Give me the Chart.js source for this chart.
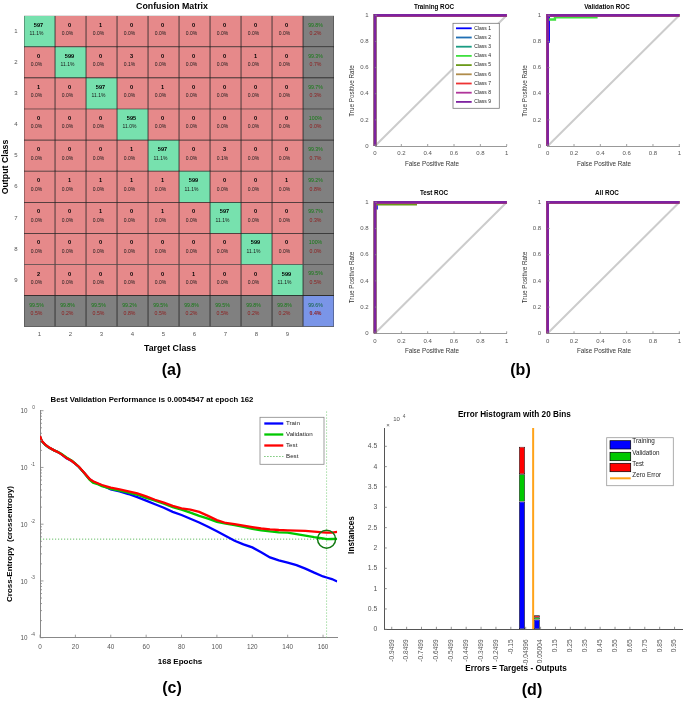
<!DOCTYPE html>
<html>
<head>
<meta charset="utf-8">
<title>Neural network classification results</title>
<script src="https://cdn.jsdelivr.net/npm/chart.js@4.4.1/dist/chart.umd.min.js"></script>
<style>
  html, body { margin:0; padding:0; background:#ffffff; }
  #wrap { position:relative; width:685px; height:701px; overflow:hidden; background:#ffffff; }
  #wrap canvas { position:absolute; left:0; top:0; }
</style>
</head>
<body>
<div id="wrap"></div>
<script>
// ================= DATA =================
// (a) Confusion matrix: rows = output class, columns = target class
const cmClasses = ['1','2','3','4','5','6','7','8','9'];
const cmOut1 = [597, 0, 1, 0, 0, 0, 0, 0, 0];
const cmOut2 = [0, 599, 0, 3, 0, 0, 0, 1, 0];
const cmOut3 = [1, 0, 597, 0, 1, 0, 0, 0, 0];
const cmOut4 = [0, 0, 0, 595, 0, 0, 0, 0, 0];
const cmOut5 = [0, 0, 0, 1, 597, 0, 3, 0, 0];
const cmOut6 = [0, 1, 1, 1, 1, 599, 0, 0, 1];
const cmOut7 = [0, 0, 1, 0, 1, 0, 597, 0, 0];
const cmOut8 = [0, 0, 0, 0, 0, 0, 0, 599, 0];
const cmOut9 = [2, 0, 0, 0, 0, 1, 0, 0, 599];

// (b) ROC curves: false positive rate / true positive rate
const rocClassNames = ['Class 1','Class 2','Class 3','Class 4','Class 5','Class 6','Class 7','Class 8','Class 9'];
const rocTicks = [0, 0.2, 0.4, 0.6, 0.8, 1];
const rocPerfectFpr = [0, 0, 1];
const rocPerfectTpr = [0, 1, 1];
const valClass1Fpr = [0, 0, 0.008, 0.008, 1];
const valClass1Tpr = [0, 0.80, 0.80, 1, 1];
const valClass4Fpr = [0, 0, 0.055, 0.055, 0.37, 0.37, 1];
const valClass4Tpr = [0, 0.968, 0.968, 0.984, 0.984, 1, 1];
const testClass1Fpr = [0, 0, 0.012, 0.012, 1];
const testClass1Tpr = [0, 0.955, 0.955, 1, 1];
const testClass2Fpr = [0, 0, 0.07, 0.07, 1];
const testClass2Tpr = [0, 0.99, 0.99, 1, 1];
const testClass5Fpr = [0, 0, 0.31, 0.31, 1];
const testClass5Tpr = [0, 0.984, 0.984, 1, 1];
const chanceFpr = [0, 1];
const chanceTpr = [0, 1];

// (c) Performance (cross-entropy) per epoch
const perfEpochs = [0,1,3,5,8,10,12,15,18,20,22,25,28,30,33,35,38,40,45,50,55,60,65,70,75,80,85,90,95,100,105,110,115,120,125,130,135,140,145,150,155,160,162,165,168];
const perfTrain = [0.35,0.29,0.25,0.225,0.2,0.187,0.172,0.145,0.13,0.116,0.102,0.08,0.062,0.056,0.051,0.048,0.044,0.041,0.038,0.034,0.030,0.026,0.0225,0.0195,0.0165,0.0145,0.0125,0.0107,0.009,0.0075,0.0062,0.0051,0.0044,0.0039,0.0032,0.0026,0.0023,0.0021,0.0019,0.00165,0.0014,0.0012,0.00115,0.00108,0.00098];
const perfValidation = [0.35,0.29,0.25,0.225,0.2,0.188,0.174,0.15,0.131,0.117,0.102,0.08,0.061,0.054,0.05,0.047,0.044,0.042,0.039,0.036,0.033,0.029,0.026,0.023,0.020,0.018,0.016,0.014,0.0125,0.011,0.0102,0.0096,0.009,0.0083,0.0078,0.0075,0.0072,0.0071,0.0067,0.0063,0.0059,0.0056,0.0054547,0.00548,0.0055];
const perfTest = [0.36,0.295,0.252,0.226,0.2,0.187,0.172,0.146,0.13,0.116,0.103,0.081,0.063,0.057,0.052,0.049,0.046,0.044,0.041,0.038,0.035,0.031,0.027,0.024,0.021,0.019,0.018,0.0165,0.014,0.0118,0.0105,0.0100,0.0094,0.0089,0.0084,0.0081,0.0079,0.0078,0.0077,0.0076,0.0074,0.0072,0.0071,0.0071,0.0073];
const bestEpoch = 162;
const bestPerf = 0.0054547;
const totalEpochs = 168;
const perfYMin = 1e-4;
const perfYMax = 1;
const perfDecades = [-4, -3, -2, -1, 0];
const perfEpochTicks = [0, 20, 40, 60, 80, 100, 120, 140, 160];

// (d) Error histogram with 20 bins
const histBins = ['-0.9499','-0.8499','-0.7499','-0.6499','-0.5499','-0.4499','-0.3499','-0.2499','-0.15','-0.04996','0.05004','0.15','0.25','0.35','0.45','0.55','0.65','0.75','0.85','0.95'];
const histTraining   = [9, 6, 7, 8, 9, 10, 12, 15, 24, 31400, 2420, 20, 12, 10, 8, 8, 7, 6, 6, 9];
const histValidation = [2, 1, 1, 2, 2, 2, 3, 3, 5, 6730, 520, 4, 3, 2, 2, 2, 1, 1, 1, 2];
const histTest       = [2, 1, 2, 1, 2, 2, 3, 3, 5, 6730, 520, 4, 2, 2, 2, 1, 2, 1, 1, 2];
const histYTicks = [0, 5000, 10000, 15000, 20000, 25000, 30000, 35000, 40000, 45000];
const histYMax = 49500;
const zeroError = 0;

// ================= HELPERS =================
const FF = "'Liberation Sans', Arial, Helvetica, sans-serif";
const W = 685, H = 701;
const wrap = document.getElementById('wrap');
function addCanvas() {
  const c = document.createElement('canvas');
  c.width = W; c.height = H; c.style.width = W + 'px'; c.style.height = H + 'px';
  wrap.appendChild(c); return c;
}
function font(size, bold) { return (bold ? 'bold ' : '') + size + 'px ' + FF; }
function fixW(w) { return s => { s.width = w; s.paddingLeft = 0; s.paddingRight = 0; s.paddingTop = 0; s.paddingBottom = 0; }; }
function fixH(h) { return s => { s.height = h; s.paddingLeft = 0; s.paddingRight = 0; s.paddingTop = 0; s.paddingBottom = 0; }; }
function areaPad(a, yW, xH) { return { left: a.L - yW, top: a.T, right: W - a.R, bottom: H - a.B - xH }; }
function pts(xs, ys) { return xs.map((x, i) => ({ x: x, y: ys[i] })); }

function textPlugin(items) {
  return { id: 'pageText', afterDraw(chart) {
    const ctx = chart.ctx;
    items.forEach(it => {
      ctx.save();
      ctx.font = font(it.size, it.bold);
      ctx.fillStyle = it.color || '#000';
      ctx.textAlign = it.align || 'center';
      ctx.textBaseline = 'middle';
      ctx.translate(it.x, it.y);
      if (it.rot) ctx.rotate(-Math.PI / 2);
      ctx.fillText(it.text, 0, 0);
      ctx.restore();
    });
  } };
}
function tickPlugin(spec) {
  return { id: 'inTicks', afterDraw(chart) {
    const ctx = chart.ctx, a = chart.chartArea;
    ctx.save(); ctx.strokeStyle = spec.color || '#7a7a7a'; ctx.lineWidth = 0.8;
    ['x', 'y'].forEach(id => {
      const sc = chart.scales[id], sp = spec[id];
      if (!sc || !sp) return;
      sc.ticks.forEach((t, i) => {
        const len = (t.major === false && sp.minor != null) ? sp.minor : sp.len;
        const p = sc.getPixelForTick(i);
        ctx.beginPath();
        if (id === 'x') { ctx.moveTo(p, a.bottom); ctx.lineTo(p, a.bottom - len); }
        else { ctx.moveTo(a.left, p); ctx.lineTo(a.left + len, p); }
        ctx.stroke();
      });
    });
    ctx.restore();
  } };
}
function legendPlugin(cfg) {
  return { id: 'boxLegend', afterDraw(chart) {
    const ctx = chart.ctx; const b = cfg.box;
    ctx.save();
    ctx.fillStyle = '#ffffff'; ctx.fillRect(b[0], b[1], b[2] - b[0], b[3] - b[1]);
    ctx.strokeStyle = cfg.border || '#8c8c8c'; ctx.lineWidth = 0.8;
    ctx.strokeRect(b[0], b[1], b[2] - b[0], b[3] - b[1]);
    cfg.items.forEach(it => {
      const ds = chart.data.datasets[it.ds];
      if (it.kind === 'patch') {
        ctx.fillStyle = ds.backgroundColor;
        ctx.fillRect(cfg.x0, it.y0, cfg.x1 - cfg.x0, it.y1 - it.y0);
        ctx.strokeStyle = '#000'; ctx.lineWidth = 0.7;
        ctx.strokeRect(cfg.x0, it.y0, cfg.x1 - cfg.x0, it.y1 - it.y0);
      } else {
        ctx.strokeStyle = ds.borderColor; ctx.lineWidth = it.lw || ds.borderWidth;
        ctx.setLineDash(ds.borderDash || []);
        ctx.beginPath(); ctx.moveTo(cfg.x0, it.y); ctx.lineTo(cfg.x1, it.y); ctx.stroke();
        ctx.setLineDash([]);
      }
      ctx.fillStyle = '#222'; ctx.font = font(cfg.size); ctx.textAlign = 'left'; ctx.textBaseline = 'middle';
      ctx.fillText(ds.label, cfg.tx, it.ty != null ? it.ty : it.y);
    });
    ctx.restore();
  } };
}
const baseOpts = { responsive: false, maintainAspectRatio: false, animation: false, devicePixelRatio: 1,
  plugins: { legend: { display: false }, tooltip: { enabled: false }, title: { display: false } } };

// ================= (a) CONFUSION MATRIX =================
(function () {
  const rows = [cmOut1, cmOut2, cmOut3, cmOut4, cmOut5, cmOut6, cmOut7, cmOut8, cmOut9];
  const n = cmClasses.length;
  const total = rows.reduce((s, r) => s + r.reduce((a, b) => a + b, 0), 0);
  const rowSum = rows.map(r => r.reduce((a, b) => a + b, 0));
  const colSum = cmClasses.map((c, j) => rows.reduce((s, r) => s + r[j], 0));
  const diag = rows.reduce((s, r, i) => s + r[i], 0);
  const rowLabels = cmClasses.concat(['']);
  const GREEN = '#77e1ae', RED = '#e6898a', GREY = '#808080', BLUE = '#7a95e8';
  function pct(f) {
    const r = Math.round(f * 1000) / 10;
    if (r >= 100) return '100%';
    return r.toFixed(1) + '%';
  }
  function cellColor(i, j) {
    if (i === n && j === n) return BLUE;
    if (i === n || j === n) return GREY;
    return i === j ? GREEN : RED;
  }
  function cellText(i, j) {
    if (i < n && j < n) return { a: String(rows[i][j]), b: pct(rows[i][j] / total), sum: false };
    let good, all;
    if (i < n) { good = rows[i][i]; all = rowSum[i]; }
    else if (j < n) { good = rows[j][j]; all = colSum[j]; }
    else { good = diag; all = total; }
    return { a: pct(good / all), b: pct(1 - good / all), sum: true, corner: i === n && j === n };
  }
  const datasets = [];
  for (let j = 0; j <= n; j++) {
    datasets.push({
      label: j < n ? 'Target ' + cmClasses[j] : 'Summary',
      data: rowLabels.map(() => 1),
      backgroundColor: rowLabels.map((_, i) => cellColor(i, j)),
      borderColor: '#262626', borderWidth: 0.7, borderSkipped: false,
      barPercentage: 1, categoryPercentage: 1
    });
  }
  const cellPlugin = { id: 'cmCells', afterDatasetsDraw(chart) {
    const ctx = chart.ctx;
    ctx.save(); ctx.textAlign = 'center'; ctx.textBaseline = 'middle';
    chart.data.datasets.forEach((ds, j) => {
      chart.getDatasetMeta(j).data.forEach((el, i) => {
        const cx = (el.x + el.base) / 2, cy = el.y;
        const t = cellText(i, j);
        if (!t.sum) {
          ctx.font = font(5.6, true); ctx.fillStyle = '#000';
          ctx.fillText(t.a, cx - 1, cy - 6);
          ctx.font = font(5, false); ctx.fillStyle = '#1a1a1a';
          ctx.fillText(t.b, cx - 3, cy + 2.5);
        } else {
          ctx.font = font(5.2, false); ctx.fillStyle = t.corner ? '#0d5f3a' : '#127a12';
          ctx.fillText(t.a, cx - 3, cy - 6);
          ctx.font = font(5.2, t.corner); ctx.fillStyle = '#8e1b1b';
          ctx.fillText(t.b, cx - 3, cy + 2.5);
        }
      });
    });
    ctx.restore();
  } };
  const area = { L: 24, T: 15.7, R: 334, B: 326.7 };
  new Chart(addCanvas(), {
    type: 'bar',
    data: { labels: rowLabels, datasets: datasets },
    options: Object.assign({}, baseOpts, {
      indexAxis: 'y',
      layout: { padding: areaPad(area, 20, 12) },
      scales: {
        x: { type: 'linear', stacked: true, min: 0, max: n + 1,
          grid: { display: false, drawTicks: false }, border: { display: false },
          afterBuildTicks: s => { s.ticks = cmClasses.map((c, i) => ({ value: i + 0.5 })); },
          ticks: { callback: (v, i) => cmClasses[i], font: { family: FF, size: 6 }, color: '#555', padding: 3.7, maxRotation: 0, autoSkip: false },
          afterFit: fixH(12) },
        y: { type: 'category', stacked: true,
          grid: { display: false, drawTicks: false }, border: { display: false },
          ticks: { font: { family: FF, size: 6 }, color: '#555', padding: 6.3, autoSkip: false },
          afterFit: fixW(20) }
      }
    }),
    plugins: [cellPlugin, textPlugin([
      { text: 'Confusion Matrix', x: 172, y: 6.5, size: 8.8, bold: true },
      { text: 'Output Class', x: 6, y: 167, size: 8.8, bold: true, rot: true },
      { text: 'Target Class', x: 170, y: 349, size: 8.8, bold: true },
      { text: '(a)', x: 171.5, y: 371, size: 16, bold: true }
    ])]
  });
})();

// ================= (b) ROC CURVES =================
const rocColors = ['#0000ff', '#1f6fb4', '#1a9c83', '#3fe03f', '#6b9a1a', '#b08c4a', '#ee3333', '#b0359a', '#7e22a0'];
function rocChart(area, curves, texts, legend) {
  const datasets = [{ label: 'Chance', data: pts(chanceFpr, chanceTpr), borderColor: '#cccccc', borderWidth: 2, order: 100, clip: false }];
  curves.forEach((c, k) => datasets.push({
    label: rocClassNames[k], data: pts(c[0], c[1]), borderColor: rocColors[k], borderWidth: 2.4, order: -k, clip: false
  }));
  const plugins = [tickPlugin({ x: { len: 2 }, y: { len: 2 }, color: '#888' }), textPlugin(texts)];
  if (legend) {
    const items = rocClassNames.map((nm, k) => ({ ds: k + 1, y: 28.3 + 9.2 * k, lw: 1.8 }));
    plugins.push(legendPlugin({ box: [453, 23.3, 499.3, 108.3], x0: 456, x1: 471.7, tx: 474.3, size: 5, items: items, border: '#777' }));
  }
  new Chart(addCanvas(), {
    type: 'line',
    data: { datasets: datasets },
    options: Object.assign({}, baseOpts, {
      layout: { padding: areaPad(area, 24, 14) },
      elements: { point: { radius: 0 }, line: { tension: 0 } },
      scales: {
        x: { type: 'linear', min: 0, max: 1, grid: { display: false, drawTicks: false }, border: { display: true, color: '#999', width: 1 },
          afterBuildTicks: s => { s.ticks = rocTicks.map(v => ({ value: v })); },
          ticks: { callback: v => String(v), font: { family: FF, size: 6 }, color: '#555', padding: 4, maxRotation: 0, autoSkip: false },
          afterFit: fixH(14) },
        y: { type: 'linear', min: 0, max: 1, grid: { display: false, drawTicks: false }, border: { display: true, color: '#999', width: 1 },
          afterBuildTicks: s => { s.ticks = rocTicks.map(v => ({ value: v })); },
          ticks: { callback: v => String(v), font: { family: FF, size: 6 }, color: '#555', padding: 6.5, autoSkip: false },
          afterFit: fixW(24) }
      }
    }),
    plugins: plugins
  });
}
const perfect = [rocPerfectFpr, rocPerfectTpr];
function rocTexts(title, tx, ty, ytx, yty, xtx, xty) {
  return [
    { text: title, x: tx, y: ty, size: 6.3, bold: true },
    { text: 'True Positive Rate', x: ytx, y: yty, size: 6.3, color: '#333', rot: true },
    { text: 'False Positive Rate', x: xtx, y: xty, size: 6.3, color: '#333' }
  ];
}
rocChart({ L: 375, T: 15.3, R: 506.7, B: 146 },
  [perfect, perfect, perfect, perfect, perfect, perfect, perfect, perfect, perfect],
  rocTexts('Training ROC', 434, 7, 352, 91, 432, 164).concat([{ text: '(b)', x: 520.5, y: 371, size: 16, bold: true }]), true);
rocChart({ L: 547.7, T: 15.3, R: 679.3, B: 146 },
  [[valClass1Fpr, valClass1Tpr], perfect, perfect, [valClass4Fpr, valClass4Tpr], perfect, perfect, perfect, perfect, perfect],
  rocTexts('Validation ROC', 607, 7, 525, 91, 604, 164), false);
rocChart({ L: 375, T: 202.3, R: 506.7, B: 333.3 },
  [[testClass1Fpr, testClass1Tpr], [testClass2Fpr, testClass2Tpr], perfect, perfect, [testClass5Fpr, testClass5Tpr], perfect, perfect, perfect, perfect],
  rocTexts('Test ROC', 434, 193.5, 352, 277.5, 432, 351), false);
rocChart({ L: 547.7, T: 202.3, R: 679.3, B: 333.3 },
  [perfect, perfect, perfect, perfect, perfect, perfect, perfect, perfect, perfect],
  rocTexts('All ROC', 607, 193.5, 525, 277.5, 604, 351), false);

// ================= (c) PERFORMANCE =================
(function () {
  const area = { L: 40, T: 410.7, R: 337.2, B: 637.7 };
  const decadeLabels = { id: 'decadeLabels', afterDraw(chart) {
    const ctx = chart.ctx, ys = chart.scales.y;
    ctx.save(); ctx.fillStyle = '#555'; ctx.textBaseline = 'middle';
    perfDecades.forEach(e => {
      const p = ys.getPixelForValue(Math.pow(10, e));
      ctx.font = font(6.3); ctx.textAlign = 'right'; ctx.fillText('10', 27.5, p + 1);
      ctx.font = font(4.8); ctx.textAlign = 'right'; ctx.fillText(String(e), 35, p - 3);
    });
    ctx.restore();
  } };
  new Chart(addCanvas(), {
    type: 'line',
    data: { datasets: [
      { label: 'Train', data: pts(perfEpochs, perfTrain), borderColor: '#0000ff', borderWidth: 2.3, order: 3 },
      { label: 'Validation', data: pts(perfEpochs, perfValidation), borderColor: '#00c800', borderWidth: 2.3, order: 2 },
      { label: 'Test', data: pts(perfEpochs, perfTest), borderColor: '#ff0000', borderWidth: 2.3, order: 1 },
      { label: 'Best', data: [{ x: 0, y: bestPerf }, { x: totalEpochs, y: bestPerf }], borderColor: '#55b855', borderWidth: 0.9, borderDash: [1.2, 1.8], order: 4 },
      { label: 'Best epoch', data: [{ x: bestEpoch, y: perfYMin }, { x: bestEpoch, y: perfYMax }], borderColor: '#7fcf7f', borderWidth: 0.9, borderDash: [1.2, 1.8], order: 4 },
      { label: 'Best point', data: [{ x: bestEpoch, y: bestPerf }], showLine: false, pointRadius: 9, pointBorderColor: '#117a11', pointBorderWidth: 1.5, pointBackgroundColor: 'rgba(0,0,0,0)', order: 0 }
    ] },
    options: Object.assign({}, baseOpts, {
      layout: { padding: areaPad(area, 20, 16) },
      elements: { point: { radius: 0 }, line: { tension: 0 } },
      scales: {
        x: { type: 'linear', min: 0, max: totalEpochs, grid: { display: false, drawTicks: false }, border: { display: true, color: '#888', width: 1 },
          afterBuildTicks: s => { s.ticks = perfEpochTicks.map(v => ({ value: v })); },
          ticks: { callback: v => String(v), font: { family: FF, size: 6.4 }, color: '#555', padding: 6, maxRotation: 0, autoSkip: false },
          afterFit: fixH(16) },
        y: { type: 'logarithmic', min: perfYMin, max: perfYMax, grid: { display: false, drawTicks: false }, border: { display: true, color: '#888', width: 1 },
          afterBuildTicks: s => {
            const t = [];
            perfDecades.forEach(e => {
              if (e === perfDecades[perfDecades.length - 1]) { t.push({ value: Math.pow(10, e), major: true }); return; }
              for (let m = 1; m <= 9; m++) t.push({ value: m * Math.pow(10, e), major: m === 1 });
            });
            s.ticks = t;
          },
          ticks: { display: false, autoSkip: false },
          afterFit: fixW(20) }
      }
    }),
    plugins: [tickPlugin({ x: { len: 3 }, y: { len: 3.5, minor: 2 }, color: '#888' }), decadeLabels,
      legendPlugin({ box: [260, 417.3, 324, 464.3], x0: 264.3, x1: 283.3, tx: 286, size: 6.2, border: '#888',
        items: [{ ds: 0, y: 423.5 }, { ds: 1, y: 434.5 }, { ds: 2, y: 445.5 }, { ds: 3, y: 456.5, lw: 1 }] }),
      textPlugin([
        { text: 'Best Validation Performance is ' + bestPerf + ' at epoch ' + bestEpoch, x: 152, y: 400, size: 7.8, bold: true },
        { text: 'Cross-Entropy  (crossentropy)', x: 10, y: 544, size: 8, bold: true, rot: true },
        { text: totalEpochs + ' Epochs', x: 180, y: 662, size: 8, bold: true },
        { text: '(c)', x: 172, y: 689, size: 16, bold: true }
      ])]
  });
})();

// ================= (d) ERROR HISTOGRAM =================
(function () {
  const area = { L: 384.3, T: 428, R: 682, B: 629.3 };
  const half = 0.05;
  const x2min = parseFloat(histBins[0]) - half, x2max = parseFloat(histBins[histBins.length - 1]) + half;
  new Chart(addCanvas(), {
    type: 'bar',
    data: { labels: histBins, datasets: [
      { label: 'Training', data: histTraining, backgroundColor: '#0000ff', borderColor: '#000', borderWidth: 0.7, borderSkipped: false, stack: 'err', barPercentage: 0.8, categoryPercentage: 1 },
      { label: 'Validation', data: histValidation, backgroundColor: '#00c800', borderColor: '#000', borderWidth: 0.7, borderSkipped: false, stack: 'err', barPercentage: 0.8, categoryPercentage: 1 },
      { label: 'Test', data: histTest, backgroundColor: '#ff0000', borderColor: '#000', borderWidth: 0.7, borderSkipped: false, stack: 'err', barPercentage: 0.8, categoryPercentage: 1 },
      { type: 'line', label: 'Zero Error', xAxisID: 'x2', stack: 'zero', data: [{ x: zeroError, y: 0 }, { x: zeroError, y: histYMax }], borderColor: '#ffa31a', borderWidth: 2, pointRadius: 0, order: -1 }
    ] },
    options: Object.assign({}, baseOpts, {
      layout: { padding: areaPad(area, 24, 40) },
      scales: {
        x: { type: 'category', stacked: true, offset: true, grid: { display: false, drawTicks: false }, border: { display: true, color: '#555', width: 1 },
          ticks: { font: { family: FF, size: 6.6 }, color: '#555', padding: 10, minRotation: 90, maxRotation: 90, autoSkip: false },
          afterFit: fixH(40) },
        x2: { type: 'linear', display: false, min: x2min, max: x2max },
        y: { type: 'linear', stacked: true, min: 0, max: histYMax, grid: { display: false, drawTicks: false }, border: { display: true, color: '#555', width: 1 },
          afterBuildTicks: s => { s.ticks = histYTicks.map(v => ({ value: v })); },
          ticks: { callback: v => String(v / 10000), font: { family: FF, size: 6.8 }, color: '#555', padding: 7, autoSkip: false },
          afterFit: fixW(24) }
      }
    }),
    plugins: [tickPlugin({ x: { len: 2.5 }, y: { len: 2.5 }, color: '#777' }),
      legendPlugin({ box: [606.7, 437.7, 673.3, 485.7], x0: 610, x1: 630.7, tx: 632.3, size: 6.3, border: '#999',
        items: [{ ds: 0, kind: 'patch', y0: 440.7, y1: 449, ty: 441.5 }, { ds: 1, kind: 'patch', y0: 452.3, y1: 460.7, ty: 452.8 },
                { ds: 2, kind: 'patch', y0: 463.3, y1: 471.7, ty: 464 }, { ds: 3, y: 478.3, ty: 475 }] }),
      textPlugin([
        { text: 'Error Histogram with 20 Bins', x: 514.3, y: 415, size: 8.2, bold: true },
        { text: '\u00d7', x: 388, y: 425.5, size: 6, color: '#555' },
        { text: '10', x: 396.5, y: 419.5, size: 6, color: '#555' },
        { text: '4', x: 404, y: 416.5, size: 4.8, color: '#555' },
        { text: 'Instances', x: 352, y: 535, size: 8.2, bold: true, rot: true },
        { text: 'Errors = Targets - Outputs', x: 516, y: 669, size: 8.2, bold: true },
        { text: '(d)', x: 532, y: 691, size: 16, bold: true }
      ])]
  });
})();
</script>
</body>
</html>
